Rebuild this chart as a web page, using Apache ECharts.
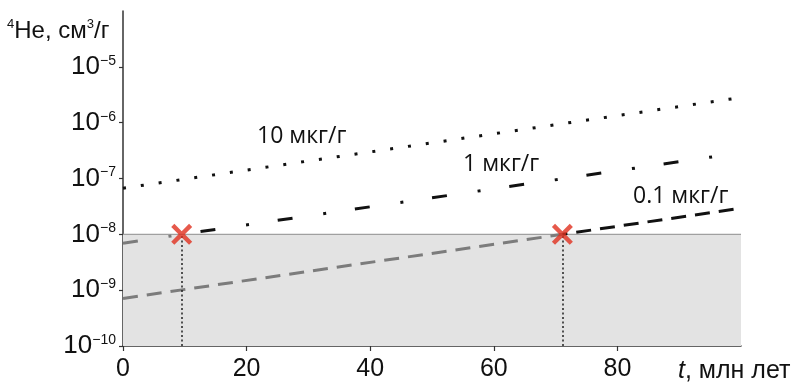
<!DOCTYPE html>
<html><head><meta charset="utf-8">
<script src="https://cdn.jsdelivr.net/npm/echarts@6/dist/echarts.min.js"></script>
<style>html,body{margin:0;padding:0;background:#fff}#c{width:795px;height:382px}</style>
</head><body><div id="c"></div>
<script>
// ---- data ----
const xTicks = [0, 20, 40, 60, 80];
const xMax = 100;
const yTicks = [1e-10, 1e-9, 1e-8, 1e-7, 1e-6, 1e-5];
const yTickExp = ['−10', '−9', '−8', '−7', '−6', '−5'];
const yMin = 1e-10, yMax = 1e-4;
const threshold = 1e-8;
const crossT = [9.5, 71.1];
const line10T = [0, 99];      const line10He = [6.7e-8, 2.72e-6];
const line1LowT = [0, 9.5];   const line1LowHe = [6.9e-9, 1e-8];
const line1HighT = [9.5, 96]; const line1HighHe = [1e-8, 2.5e-7];
const line01LowT = [0, 71.1]; const line01LowHe = [7.1e-10, 1e-8];
const line01HighT = [71.1, 99]; const line01HighHe = [1e-8, 2.83e-8];
const lineLabels = ['10 мкг/г', '1 мкг/г', '0.1 мкг/г'];
const yName = ['4', 'He, см', '3', '/г'];
const xName = ['t', ', млн лет'];

const pairs = (t, v) => t.map((x, i) => [x, v[i]]);
const BLACK = '#111', GRAY = '#7c7c7c';
const lineSeries = (data, color, type, offset) => ({
  type: 'line', data, showSymbol: false, symbol: 'none', silent: true, z: 3,
  lineStyle: { color, width: 3, type, cap: 'butt', dashOffset: offset || 0 }
});
const labelFont = '23px "Open Sans"';

const chart = echarts.init(document.getElementById('c'), null, { renderer: 'canvas' });
chart.setOption({
  animation: false,
  grid: { left: 123, right: 54, top: 11, bottom: 32 },
  xAxis: {
    type: 'value', min: 0, max: xMax, interval: 20,
    axisLine: { lineStyle: { color: '#333', width: 1.5 } },
    axisTick: { length: 5, lineStyle: { color: '#333', width: 1.2 }, customValues: xTicks },
    axisLabel: { customValues: xTicks, margin: 11, fontSize: 25, fontFamily: 'Liberation Sans', color: '#111' },
    splitLine: { show: false }
  },
  yAxis: {
    type: 'log', logBase: 10, min: yMin, max: yMax,
    axisLine: { show: true, lineStyle: { color: '#333', width: 1.5 } },
    axisTick: { show: true, length: 4, lineStyle: { color: '#333', width: 1.2 }, customValues: yTicks },
    axisLabel: {
      customValues: yTicks, margin: 7,
      formatter: (v) => {
        let idx = yTicks.findIndex(t => Math.abs(t - v) / t < 1e-6);
        if (idx < 0) return '';
        return '{b|10}{s|' + yTickExp[idx] + '}';
      },
      rich: {
        b: { fontSize: 26, fontFamily: 'Liberation Sans', color: '#111', lineHeight: 26 },
        s: { fontSize: 14, fontFamily: 'Liberation Sans', color: '#111', verticalAlign: 'top', lineHeight: 26 }
      }
    },
    splitLine: { show: false }
  },
  series: [
    {
      type: 'line', data: [[0, threshold], [xMax, threshold]], showSymbol: false, symbol: 'none', silent: true, z: 1,
      lineStyle: { color: '#a0a0a0', width: 1.2 },
      markArea: {
        silent: true,
        itemStyle: { color: '#e3e3e3' },
        data: [[{ coord: [0, yMin] }, { coord: [xMax, threshold] }]]
      }
    },
    lineSeries(pairs(line10T, line10He), BLACK, [3, 15]),
    lineSeries(pairs(line1LowT, line1LowHe), GRAY, [15, 31, 3, 29]),
    lineSeries(pairs(line1HighT, line1HighHe), BLACK, [15, 31, 3, 29], 59),
    lineSeries(pairs(line01LowT, line01LowHe), GRAY, [15, 9]),
    lineSeries(pairs(line01HighT, line01HighHe), BLACK, [15, 9], 10),
    {
      type: 'scatter', z: 10, silent: true,
      data: crossT.map(t => [t, threshold]),
      symbol: 'path://M3,0 L10,7 L17,0 L20,3 L13,10 L20,17 L17,20 L10,13 L3,20 L0,17 L7,10 L0,3 Z',
      symbolSize: 21,
      itemStyle: { color: '#e0301e' },
      markLine: {
        silent: true, symbol: 'none', label: { show: false },
        lineStyle: { color: '#222', width: 1.5, type: [2, 2.5] },
        data: crossT.map(t => [{ coord: [t, yMin] }, { coord: [t, threshold] }])
      }
    }
  ],
  graphic: [
    { type: 'text', left: 7, top: 18, style: {
      text: '{sup|' + yName[0] + '}{m|' + yName[1] + '}{sup|' + yName[2] + '}{m|' + yName[3] + '}',
      rich: {
        m: { fontSize: 24, fontFamily: 'Liberation Sans', fill: '#111', lineHeight: 26 },
        sup: { fontSize: 13, fontFamily: 'Liberation Sans', fill: '#111', verticalAlign: 'top', lineHeight: 26 }
      } } },
    { type: 'text', left: 678, top: 359, style: {
      text: '{i|' + xName[0] + '}{n|' + xName[1] + '}',
      rich: {
        i: { fontSize: 25, fontStyle: 'italic', fontFamily: 'Liberation Sans', fill: '#111' },
        n: { fontSize: 25, fontFamily: 'Liberation Sans', fill: '#111' }
      } } },
    { type: 'text', left: 257, top: 125, style: { text: lineLabels[0], font: labelFont, fill: '#111' } },
    { type: 'text', left: 463, top: 153, style: { text: lineLabels[1], font: labelFont, fill: '#111' } },
    { type: 'text', left: 633, top: 185, style: { text: lineLabels[2], font: labelFont, fill: '#111' } }
  ]
});
</script>
</body></html>
